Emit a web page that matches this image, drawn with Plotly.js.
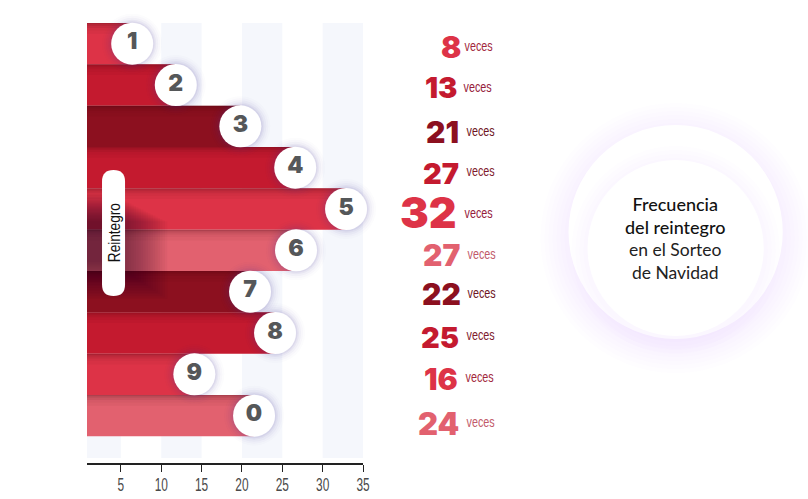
<!DOCTYPE html>
<html><head><meta charset="utf-8">
<script src="https://cdn.plot.ly/plotly-3.0.1.min.js"></script>
<style>html,body{margin:0;padding:0;background:#fff}#c{width:808px;height:499px}</style>
</head><body><div id="c"></div>
<script>
// Data
const categories = ["1","2","3","4","5","6","7","8","9","0"];
const frecuencia = [8,13,21,27,32,27,22,25,16,24];
const barEnd = [6.4,11.8,19.8,26.6,32.9,26.7,21,24.1,14.1,21.5];
const barColors = ["#dd3347","#c41a2f","#8c101f","#c41a2f","#dd3347","#e2616f","#8c101f","#c41a2f","#dd3347","#e2616f"];
const vecesColors = ["#a3283c","#96203a","#6e1422","#7f1a2c","#96203a","#c25a6a","#6e1422","#7f1a2c","#a3283c","#c25a6a"];
const tickVals = [5,10,15,20,25,30,35];
const stripes = [[0.8,5],[10,15],[20,25],[30,35]];
const title1 = "Frecuencia<br>del reintegro";
const title2 = "en el Sorteo<br>de Navidad";
const pillLabel = "Reintegro";
const vecesLabel = "veces";

// Layout geometry (pixels of the 808x499 page)
const W=808,H=499,L=87,R=362.7,T=23,B=463;
const px=x=>(x-L)/(R-L), py=y=>(B-y)/(B-T);
const numRight=[462.5,459.5,460.5,460.5,458.5,461.5,462.5,460.5,459.5,460.5];
const numY=[47,88,132,173,212,255,294,337,379,423];
const numSize=[30,29,30,29,43,30,30,29,30,31];
const vecCenter=[478.5,477.5,480.5,480.5,478.5,481.5,481.5,480.5,479.5,480.5];
const vecY=[46,86,130,171,213,253,292,334,376,421];
const yPos=categories.map((_,i)=>i);

const traces=[];
traces.push({type:'bar',orientation:'h',x:barEnd.map(v=>v-0.8),y:yPos,base:0.8,width:1,
  marker:{color:barColors,line:{width:0}},hoverinfo:'skip'});
// top-edge shading of every bar
[[0,.03,.32],[.03,.04,.22],[.07,.05,.14],[.12,.06,.08],[.18,.08,.04]].forEach(s=>{
  traces.push({type:'bar',orientation:'h',x:barEnd.map(v=>v-0.8),y:yPos,base:0.8,
    width:s[1],offset:-0.5+s[0],marker:{color:'rgba(60,0,10,'+s[2]+')',line:{width:0}},hoverinfo:'skip'});
});
// soft shadow of the circles
[[60,.015],[56,.025],[52,.035],[48,.05],[45,.07]].forEach(s=>{
  traces.push({type:'scatter',mode:'markers',x:barEnd,y:yPos,cliponaxis:false,
    marker:{size:s[0],color:'rgba(70,60,150,'+s[1]+')',line:{width:0}},hoverinfo:'skip'});
});
traces.push({type:'scatter',mode:'markers+text',x:barEnd,y:yPos,text:categories,cliponaxis:false,
  textposition:'middle center',
  textfont:{family:'Inter, "Open Sans", sans-serif',size:23,weight:900,color:'#555759'},
  marker:{size:42,color:'#fff',line:{width:0}},hoverinfo:'skip'});

const shapes=[];
stripes.forEach(s=>shapes.push({type:'rect',layer:'below',xref:'x',yref:'paper',x0:s[0],x1:s[1],
  y0:py(458),y1:py(23),fillcolor:'#f5f7fc',line:{width:0}}));
// big circles on the right
function circle(cx,cy,r,fill){shapes.push({type:'circle',layer:'below',xref:'paper',yref:'paper',
  x0:px(cx-r),x1:px(cx+r),y0:py(cy+r),y1:py(cy-r),fillcolor:fill,line:{width:0}});}
[135,131,127,123,119,115,111].forEach(r=>circle(675,238,r,'rgba(130,100,230,0.010)'));
circle(675,232,107,'#ffffff');
[104,100,96,92].forEach(r=>circle(675,250,r,'rgba(130,100,230,0.012)'));
circle(675,248,88,'#ffffff');
// shadow behind the pill
for(let k=0;k<24;k++){
  shapes.push({type:'rect',layer:'above',xref:'paper',yref:'paper',x0:px(87),x1:px(112+k*2.4),
    y0:py(262+k*1.6),y1:py(194+k*1.2),fillcolor:'rgba(40,15,20,0.032)',line:{width:0}});
}
// pill
const pl=px(102),pr=px(125),pm=px(113.5),pt=py(170),pb=py(296),rv=11.5/(B-T);
shapes.push({type:'path',layer:'above',xref:'paper',yref:'paper',fillcolor:'#fff',line:{width:0},
  path:`M ${pl} ${pt-rv} Q ${pl} ${pt} ${pm} ${pt} Q ${pr} ${pt} ${pr} ${pt-rv} L ${pr} ${pb+rv} Q ${pr} ${pb} ${pm} ${pb} Q ${pl} ${pb} ${pl} ${pb+rv} Z`});

const annotations=[];
frecuencia.forEach((v,i)=>{
  annotations.push({xref:'paper',yref:'paper',x:px(numRight[i]),y:py(numY[i]),xanchor:'right',yanchor:'middle',
    showarrow:false,text:String(v),font:{family:'Inter, "Open Sans", sans-serif',size:numSize[i],weight:900,color:barColors[i]}});
  annotations.push({xref:'paper',yref:'paper',x:px(vecCenter[i]),y:py(vecY[i]),xanchor:'center',yanchor:'middle',
    showarrow:false,text:vecesLabel,font:{family:'"Liberation Sans", sans-serif',size:15,color:vecesColors[i]}});
});
annotations.push({xref:'paper',yref:'paper',x:px(113.5),y:py(233),xanchor:'center',yanchor:'middle',textangle:-90,
  showarrow:false,text:pillLabel,font:{family:'"Liberation Sans", sans-serif',size:17,color:'#111'}});
annotations.push({xref:'paper',yref:'paper',x:px(675),y:py(216),xanchor:'center',yanchor:'middle',
  showarrow:false,text:title1,font:{family:'Lato, sans-serif',size:18,weight:500,color:'#111'}});
annotations.push({xref:'paper',yref:'paper',x:px(675),y:py(261),xanchor:'center',yanchor:'middle',
  showarrow:false,text:title2,font:{family:'Lato, sans-serif',size:17.5,weight:400,color:'#222'}});

const rowH=41.33;
const layout={width:W,height:H,margin:{l:L,r:W-R,t:T,b:H-B,pad:0},
  paper_bgcolor:'#fff',plot_bgcolor:'rgba(0,0,0,0)',showlegend:false,barmode:'overlay',
  xaxis:{range:[0.8,35],tickvals:tickVals,ticktext:tickVals.map(String),ticks:'outside',ticklen:7,tickwidth:1,tickcolor:'#222',
    showline:true,linecolor:'#222',linewidth:1.5,showgrid:false,zeroline:false,ticklabelstandoff:-2,
    tickfont:{family:'"Liberation Sans", sans-serif',size:18,color:'#4a4a4a'}},
  yaxis:{range:[-0.5+(B-T)/rowH,-0.5],showticklabels:false,ticks:'',showgrid:false,zeroline:false,showline:false},
  shapes,annotations};
Plotly.newPlot('c',traces,layout,{displayModeBar:false,staticPlot:true}).then(gd=>{
  // condensed look of the reference's narrow typeface
  const narrow=(el,r)=>{const n=el.getComputedTextLength();
    el.setAttribute('textLength',n*r);el.setAttribute('lengthAdjust','spacingAndGlyphs');};
  gd.querySelectorAll('.xtick text').forEach(t=>narrow(t,0.66));
  gd.querySelectorAll('.annotation-text').forEach(t=>{
    if(t.textContent===vecesLabel) narrow(t,0.72);
    if(t.textContent===pillLabel) narrow(t,0.8);
  });
});
</script></body></html>
